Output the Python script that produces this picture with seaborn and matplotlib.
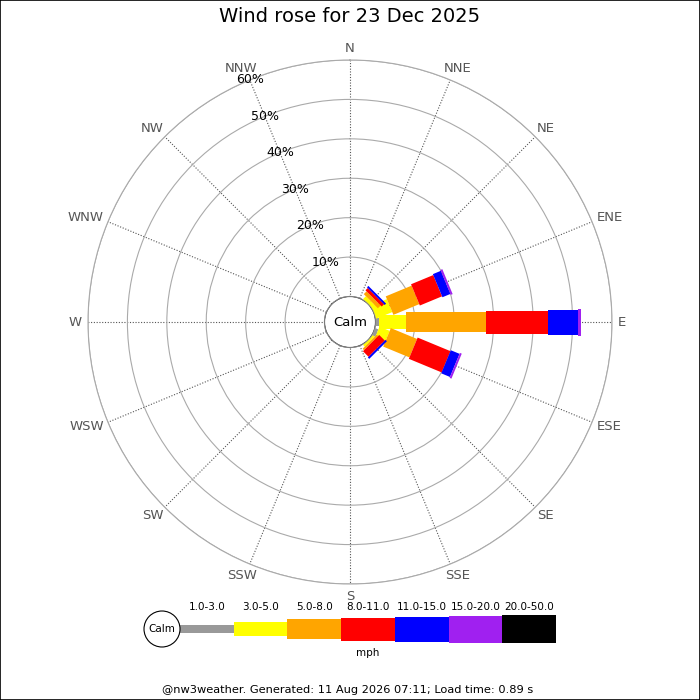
import numpy as np
import matplotlib
matplotlib.use("Agg")
import matplotlib.pyplot as plt
from matplotlib.patches import Circle, Ellipse, Rectangle
import seaborn as sns

# wind directions, clockwise from north
directions = ["N", "NNE", "NE", "ENE", "E", "ESE", "SE", "SSE",
              "S", "SSW", "SW", "WSW", "W", "WNW", "NW", "NNW"]
speed_bins = ["1.0-3.0", "3.0-5.0", "5.0-8.0", "8.0-11.0",
              "11.0-15.0", "15.0-20.0", "20.0-50.0"]

# percentage of time per direction for each speed bin (mph)
s_1_3   = [0, 0, 0.0, 0.0, 0.9, 0.9, 0.0, 0, 0, 0, 0, 0, 0, 0, 0, 0]
s_3_5   = [0, 0, 1.0, 4.4, 6.9, 2.8, 0.6, 0, 0, 0, 0, 0, 0, 0, 0, 0]
s_5_8   = [0, 0, 1.0, 7.1, 20.3, 7.2, 0.5, 0, 0, 0, 0, 0, 0, 0, 0, 0]
s_8_11  = [0, 0, 0.8, 6.1, 15.7, 9.0, 2.0, 0, 0, 0, 0, 0, 0, 0, 0, 0]
s_11_15 = [0, 0, 0.5, 2.2, 7.6, 2.4, 0.5, 0, 0, 0, 0, 0, 0, 0, 0, 0]
s_15_20 = [0, 0, 0.0, 0.5, 0.8, 0.5, 0.0, 0, 0, 0, 0, 0, 0, 0, 0, 0]
s_20_50 = [0, 0, 0, 0, 0, 0, 0, 0, 0, 0, 0, 0, 0, 0, 0, 0]
series = [s_1_3, s_3_5, s_5_8, s_8_11, s_11_15, s_15_20, s_20_50]

pct_rings = [10, 20, 30, 40, 50, 60]

bin_colors = ["#999999", "#ffff00", "#ffa500", "#ff0000",
              "#0000ff", "#a020f0", "#000000"]
bin_widths_px = [8, 14, 20, 23, 25, 27, 28]

sns.set_style("white")
plt.rcParams["font.family"] = ["DejaVu Sans"]
plt.rcParams["text.color"] = "black"

W = 700
fig = plt.figure(figsize=(7, 7), dpi=100)
fig.patch.set_facecolor("white")

# geometry of the rose in pixels
cx, cy, R, r0 = 350, 322, 262, 25.5
rmax = pct_rings[-1]
px_per = (R - r0) / rmax

ax = fig.add_axes([(cx - R) / W, (W - cy - R) / W, 2 * R / W, 2 * R / W],
                  projection="polar")
ax.set_theta_zero_location("N")
ax.set_theta_direction(-1)
ax.set_ylim(0, rmax)
ax.set_rorigin(-rmax * r0 / (R - r0))
ax.set_facecolor("white")

ax.set_rgrids(pct_rings, labels=[""] * len(pct_rings))
ax.set_thetagrids(np.arange(16) * 22.5, labels=[""] * 16)
ax.grid(True)
ax.yaxis.grid(True, color="#aaaaaa", lw=0.8, ls="-")
ax.xaxis.grid(True, color="#555555", lw=0.8, ls=(0, (1, 1.5)))
ax.set_axisbelow(True)
ax.spines["polar"].set_edgecolor("#aaaaaa")
ax.spines["polar"].set_linewidth(0.8)
if "inner" in ax.spines:
    ax.spines["inner"].set_visible(False)


def straight_bar(th, lo, hi, width_px, color):
    # a bar of constant pixel width running out along direction th
    if hi <= lo:
        return
    a = r0 + lo * px_per
    b = r0 + hi * px_per
    h = width_px / 2
    d = np.array([a, b, b, a])
    s = np.array([-h, -h, h, h])
    ang = th + np.arctan2(s, d)
    rr = (np.hypot(d, s) - r0) / px_per
    ax.fill(ang, rr, color=color, lw=0, zorder=3)


theta = np.deg2rad(np.arange(16) * 22.5)
bottom = np.zeros(16)
for vals, col, wpx in zip(series, bin_colors, bin_widths_px):
    for i, v in enumerate(vals):
        straight_bar(theta[i], bottom[i], bottom[i] + v, wpx, col)
    bottom += np.array(vals, dtype=float)

# calm circle
ax.add_patch(Circle((0.5, 0.5), r0 / (2 * R), transform=ax.transAxes,
                    facecolor="white", edgecolor="#999999", lw=0.8, zorder=4))
ax.text(0.5, 0.5, "Calm", transform=ax.transAxes, ha="center", va="center",
        fontsize=9.5, zorder=5)

# compass labels, box pushed outside the outer ring
renderer = fig.canvas.get_renderer()
for th, d in zip(theta, directions):
    t = ax.annotate(d, xy=(th, rmax), xytext=(0, 0), textcoords="offset pixels",
                    ha="center", va="center", fontsize=9.5, color="#555555",
                    annotation_clip=False)
    bb = t.get_window_extent(renderer)
    hw, hh = bb.width / 2, 6
    t.set_position(((6 + hw) * np.sin(th), (6 + hh) * np.cos(th)))

# ring labels along NNW
for p in pct_rings:
    ax.text(np.deg2rad(337.5), p, f"{p}%", ha="center", va="center",
            fontsize=9, color="black", zorder=5)

fig.text(0.5, 1 - 17 / W, "Wind rose for 23 Dec 2025", ha="center",
         va="center", fontsize=14, color="black")

# legend
seg = 53.7
lax = fig.add_axes([130 / W, 35 / W, 440 / W, 70 / W])
lax.set_xlim(-0.5 - 50 / seg, 6.5 + 14 / seg)
lax.set_ylim(-36, 34)
lax.axis("off")
wid = np.array(bin_widths_px, dtype=float)
lax.bar(np.arange(7), wid, width=1, bottom=-wid / 2, color=bin_colors,
        linewidth=0)
for i, lab in enumerate(speed_bins):
    lax.text(i, 22, lab, ha="center", va="center", fontsize=7.5)
lax.text(3, -24, "mph", ha="center", va="center", fontsize=7.5)
lax.add_patch(Ellipse((-0.5 - 18 / seg, 0), 36 / seg, 36, facecolor="white",
                      edgecolor="black", lw=0.8))
lax.text(-0.5 - 18 / seg, 0, "Calm", ha="center", va="center", fontsize=7.5)

fig.text(0.497, 10 / W, "@nw3weather. Generated: 11 Aug 2026 07:11; Load time: 0.89 s",
         ha="center", va="center", fontsize=8.2)

fig.patches.append(Rectangle((0, 0), 1, 1, transform=fig.transFigure,
                             fill=False, edgecolor="black", lw=1.2))

fig.savefig("out.png", dpi=100)
